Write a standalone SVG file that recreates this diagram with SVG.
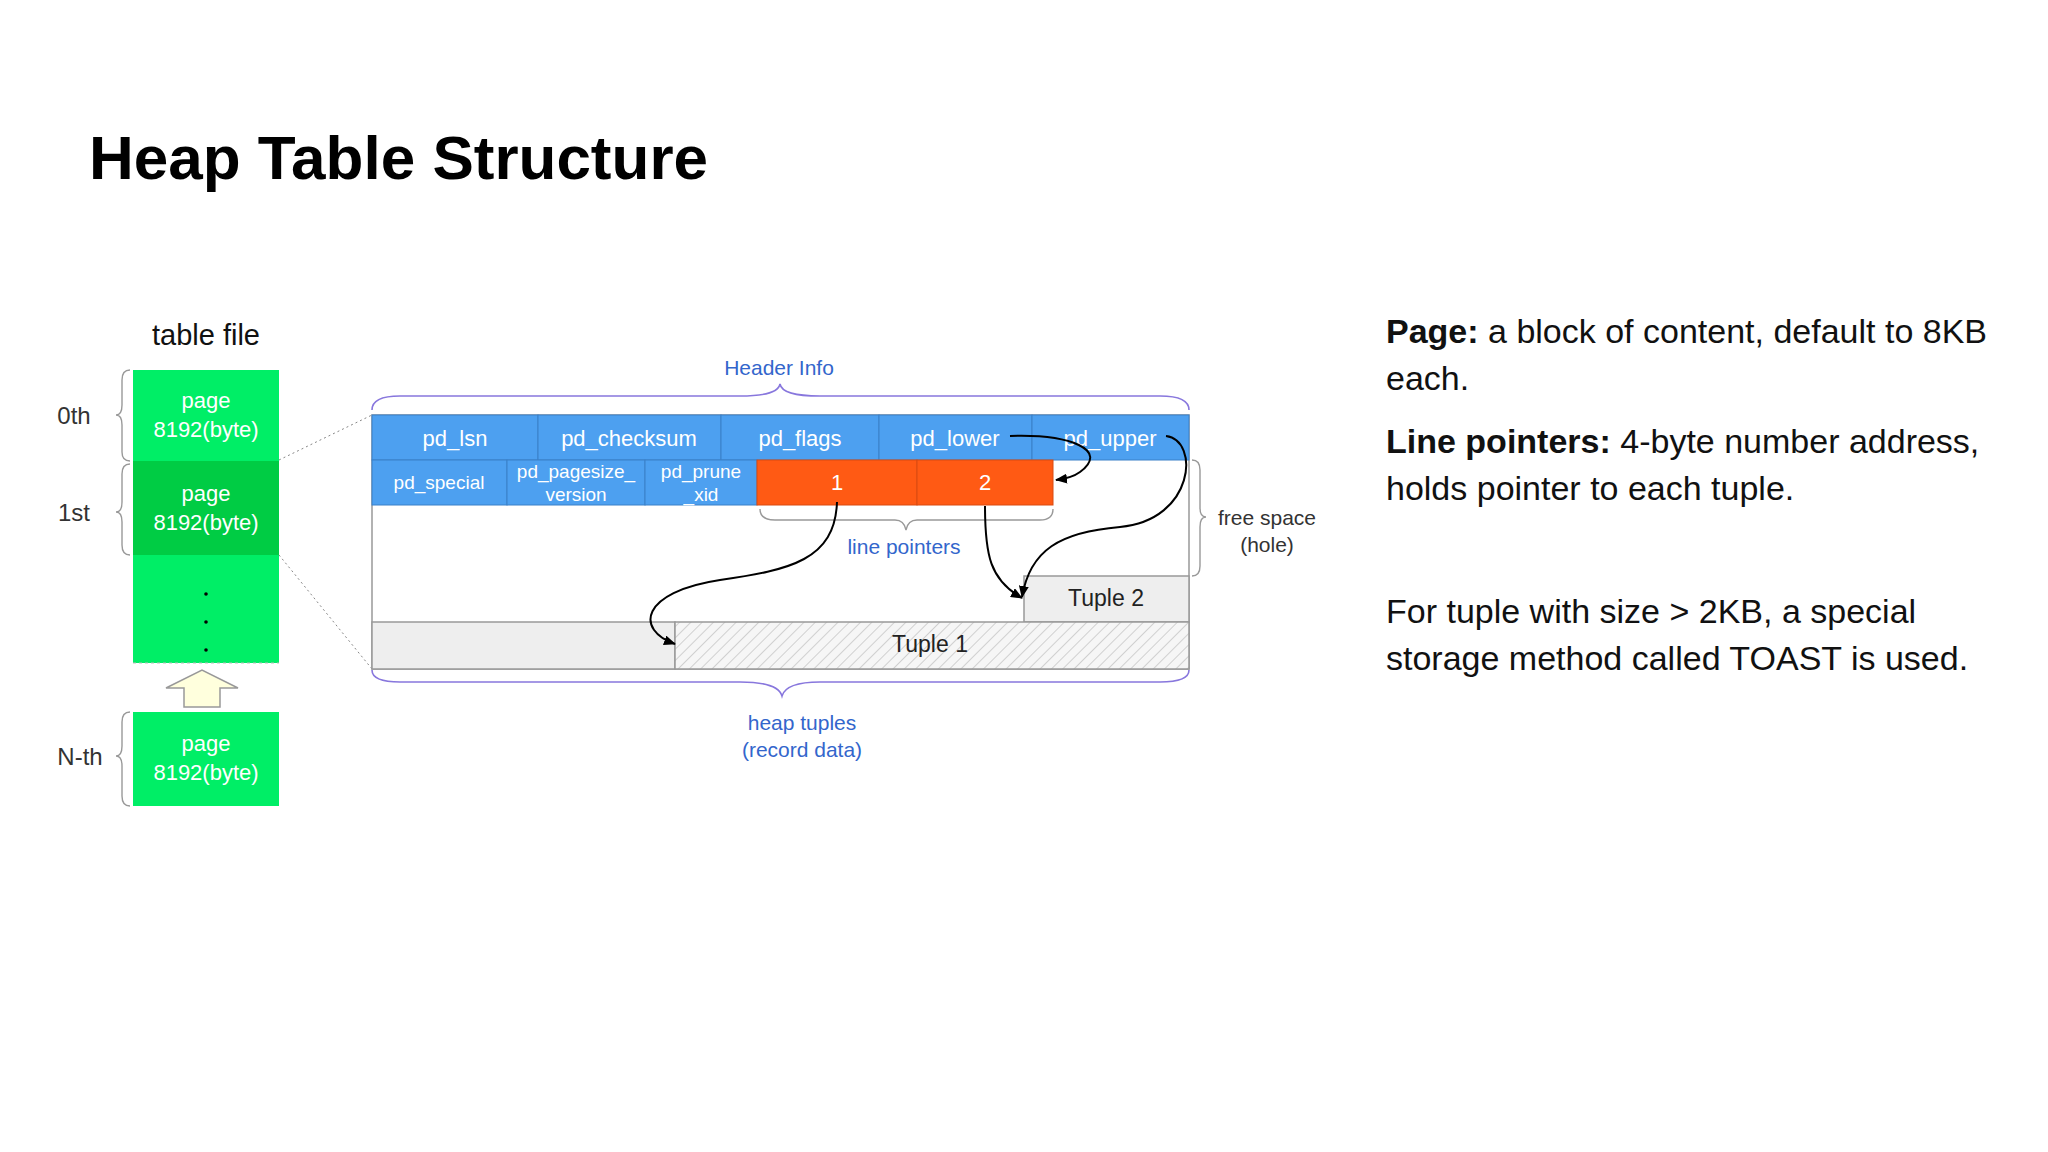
<svg xmlns="http://www.w3.org/2000/svg" width="2048" height="1152" viewBox="0 0 2048 1152">
<defs>
<style>
.t{font-family:"Liberation Sans",Arial,sans-serif}
.w{fill:#fff;font-size:22px;text-anchor:middle}
.ws{fill:#fff;font-size:19px;text-anchor:middle}
.b{fill:#3366cc;font-size:21px;text-anchor:middle}
.k{fill:#222;font-size:23px;text-anchor:middle}
.brace{fill:none;stroke:#8877dd;stroke-width:1.6}
.gb{fill:none;stroke:#999;stroke-width:1.4}
.cell{fill:#4da0f0;stroke:#3a80c8;stroke-width:1}
.or{fill:#ff5a14;stroke:#d94a10;stroke-width:1}
.arr{fill:none;stroke:#000;stroke-width:2;marker-end:url(#ah)}
.rt{font-family:"Liberation Sans",Arial,sans-serif;font-size:34px;fill:#111}
</style>
<marker id="ah" markerWidth="12" markerHeight="10" refX="11" refY="5" orient="auto" markerUnits="userSpaceOnUse"><path d="M0,0 L12,5 L0,10 z" fill="#000"/></marker>
<pattern id="hatch" width="8" height="8" patternUnits="userSpaceOnUse" patternTransform="rotate(45)"><rect width="8" height="8" fill="#f6f6f6"/><line x1="0" y1="0" x2="0" y2="8" stroke="#aaa" stroke-width="1"/></pattern>
</defs>
<rect width="2048" height="1152" fill="#fff"/>
<text class="t" x="89" y="179" font-size="62" font-weight="bold" fill="#000">Heap Table Structure</text>

<g id="tablefile">
<text class="t" x="206" y="345" font-size="29" text-anchor="middle" fill="#111">table file</text>
<g id="page0"><rect x="133" y="370" width="146" height="91" fill="#00ee66"/><text class="t w" x="206" y="408">page</text><text class="t w" x="206" y="437">8192(byte)</text></g>
<g id="page1"><rect x="133" y="461" width="146" height="94" fill="#00cc44"/><text class="t w" x="206" y="501">page</text><text class="t w" x="206" y="530">8192(byte)</text></g>
<g id="dots"><rect x="133" y="555" width="146" height="108" fill="#00ee66"/><line x1="133" y1="663" x2="279" y2="663" stroke="#bbb" stroke-dasharray="3,3"/><circle cx="206" cy="594" r="1.8" fill="#000"/><circle cx="206" cy="622" r="1.8" fill="#000"/><circle cx="206" cy="650" r="1.8" fill="#000"/></g>
<g id="uparrow"><path d="M184,707 L184,688 L166,688 L202,670 L238,688 L220,688 L220,707 z" fill="#ffffdd" stroke="#999" stroke-width="1.5"/></g>
<g id="pageN"><rect x="133" y="712" width="146" height="94" fill="#00ee66"/><text class="t w" x="206" y="751">page</text><text class="t w" x="206" y="780">8192(byte)</text></g>
<text class="t" x="74" y="424" font-size="24" text-anchor="middle" fill="#333">0th</text>
<text class="t" x="74" y="521" font-size="24" text-anchor="middle" fill="#333">1st</text>
<text class="t" x="80" y="765" font-size="24" text-anchor="middle" fill="#333">N-th</text>
<path class="gb" d="M130,370 Q122,370 122,380 L122,405 Q122,415 116,415 Q122,415 122,425 L122,452 Q122,461 130,461"/>
<path class="gb" d="M130,464 Q122,464 122,474 L122,502 Q122,512 116,512 Q122,512 122,522 L122,545 Q122,555 130,555"/>
<path class="gb" d="M130,712 Q122,712 122,722 L122,746 Q122,756 116,756 Q122,756 122,766 L122,796 Q122,806 130,806"/>
</g>

<g id="zoomlines"><line x1="279" y1="460" x2="372" y2="415" stroke="#888" stroke-dasharray="2,3"/><line x1="279" y1="555" x2="372" y2="669" stroke="#888" stroke-dasharray="2,3"/></g>

<g id="page">
<rect x="372" y="415" width="817" height="254" fill="#fff" stroke="#999" stroke-width="1.5"/>
<g id="hdr1">
<rect class="cell" x="372" y="415" width="166" height="45"/><text class="t w" x="455" y="446">pd_lsn</text>
<rect class="cell" x="538" y="415" width="183" height="45"/><text class="t w" x="629" y="446">pd_checksum</text>
<rect class="cell" x="721" y="415" width="158" height="45"/><text class="t w" x="800" y="446">pd_flags</text>
<rect class="cell" x="879" y="415" width="153" height="45"/><text class="t w" x="955" y="446">pd_lower</text>
<rect class="cell" x="1032" y="415" width="157" height="45"/><text class="t w" x="1110" y="446">pd_upper</text>
</g>
<g id="hdr2">
<rect class="cell" x="372" y="460" width="135" height="45"/><text class="t ws" x="439" y="489">pd_special</text>
<rect class="cell" x="507" y="460" width="138" height="45"/><text class="t ws" x="576" y="478">pd_pagesize_</text><text class="t ws" x="576" y="501">version</text>
<rect class="cell" x="645" y="460" width="112" height="45"/><text class="t ws" x="701" y="478">pd_prune</text><text class="t ws" x="701" y="501">_xid</text>
</g>
<g id="lp1"><rect class="or" x="757" y="460" width="160" height="45"/><text class="t w" x="837" y="490">1</text></g>
<g id="lp2"><rect class="or" x="917" y="460" width="136" height="45"/><text class="t w" x="985" y="490">2</text></g>
<g id="tuple2"><rect x="1024" y="576" width="165" height="46" fill="#eeeeee" stroke="#999" stroke-width="1.5"/><text class="t k" x="1106" y="606">Tuple 2</text></g>
<g id="tuple1"><rect x="372" y="622" width="303" height="47" fill="#eeeeee" stroke="#999" stroke-width="1.5"/><rect x="675" y="622" width="514" height="47" fill="url(#hatch)" stroke="#999" stroke-width="1.5"/><text class="t k" x="930" y="652">Tuple 1</text></g>
</g>

<g id="braces">
<path class="brace" d="M372,410 Q372,396 400,396 L740,396 Q778,396 780,384 Q782,396 820,396 L1160,396 Q1189,396 1189,410"/>
<text class="t b" x="779" y="375">Header Info</text>
<path class="gb" d="M760,509 Q760,520 775,520 L895,520 Q904,520 906,530 Q908,520 917,520 L1040,520 Q1053,520 1053,509"/>
<text class="t b" x="904" y="554">line pointers</text>
<path class="gb" d="M1192,460 Q1200,460 1200,470 L1200,508 Q1200,517 1206,517 Q1200,517 1200,527 L1200,566 Q1200,576 1192,576"/>
<text class="t" x="1267" y="525" font-size="21" text-anchor="middle" fill="#333">free space</text>
<text class="t" x="1267" y="552" font-size="21" text-anchor="middle" fill="#333">(hole)</text>
<path class="brace" d="M372,670 Q372,682 400,682 L740,682 Q778,682 782,696 Q786,682 820,682 L1160,682 Q1189,682 1189,670"/>
<text class="t b" x="802" y="730">heap tuples</text>
<text class="t b" x="802" y="757">(record data)</text>
</g>

<g id="connectors">
<path class="arr" d="M1010,436 C1070,434 1110,450 1080,472 Q1072,478 1056,480"/>
<path class="arr" d="M1166,436 C1200,440 1195,520 1120,527 C1060,532 1030,550 1022,597"/>
<path class="arr" d="M985,506 C985,555 990,580 1022,598"/>
<path class="arr" d="M837,502 C835,560 790,570 720,580 C640,592 635,630 675,644"/>
</g>

<g id="notes">
<text class="rt" x="1386" y="343"><tspan font-weight="bold">Page:</tspan> a block of content, default to 8KB</text>
<text class="rt" x="1386" y="390">each.</text>
<text class="rt" x="1386" y="453"><tspan font-weight="bold">Line pointers:</tspan> 4-byte number address,</text>
<text class="rt" x="1386" y="500">holds pointer to each tuple.</text>
<text class="rt" x="1386" y="623">For tuple with size &gt; 2KB, a special</text>
<text class="rt" x="1386" y="670">storage method called TOAST is used.</text>
</g>
</svg>
